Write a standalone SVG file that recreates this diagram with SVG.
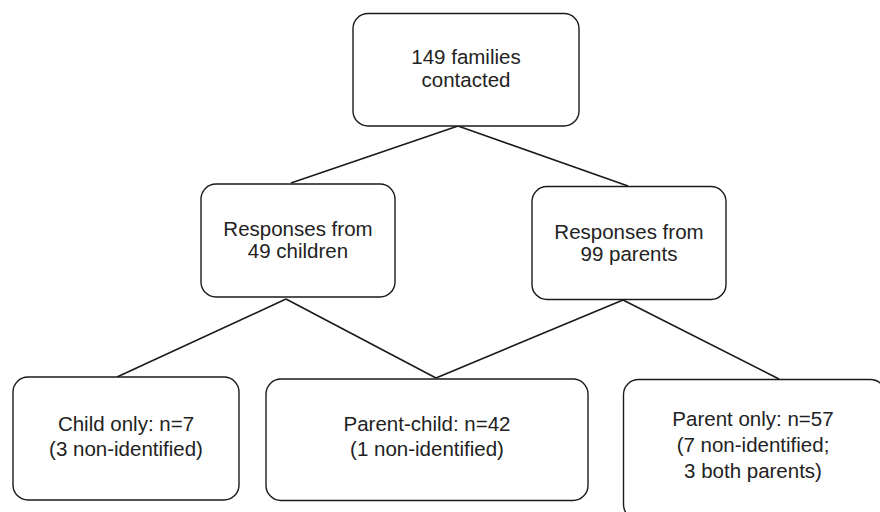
<svg xmlns="http://www.w3.org/2000/svg" width="880" height="512" viewBox="0 0 880 512">
<style>
.box{fill:#fff;stroke:#1a1a1a;stroke-width:1.4}
.ln{stroke:#1a1a1a;stroke-width:1.6;fill:none}
text{font-family:"Liberation Sans",Arial,sans-serif;font-size:20.5px;fill:#222;text-anchor:middle}
</style>
<rect width="880" height="512" fill="#fff"/>
<g id="connectors">
<line class="ln" x1="458" y1="126" x2="291" y2="183"/>
<line class="ln" x1="458" y1="126" x2="628" y2="186"/>
<line class="ln" x1="286" y1="299" x2="117" y2="377"/>
<line class="ln" x1="286" y1="299" x2="436" y2="378"/>
<line class="ln" x1="623" y1="300" x2="436" y2="378"/>
<line class="ln" x1="623" y1="300" x2="779" y2="379"/>
</g>
<g id="n1">
<rect class="box" x="353" y="13.5" width="226" height="112.5" rx="15"/>
<text x="466" y="64">149 families</text>
<text x="466" y="87">contacted</text>
</g>
<g id="n2">
<rect class="box" x="201" y="184" width="194" height="113" rx="15"/>
<text x="298" y="236">Responses from</text>
<text x="298" y="258">49 children</text>
</g>
<g id="n3">
<rect class="box" x="532" y="186.5" width="194" height="113" rx="15"/>
<text x="629" y="239">Responses from</text>
<text x="629" y="261">99 parents</text>
</g>
<g id="n4">
<rect class="box" x="13" y="377" width="226" height="123" rx="15"/>
<text x="126" y="431">Child only: n=7</text>
<text x="126" y="456">(3 non-identified)</text>
</g>
<g id="n5">
<rect class="box" x="266" y="379" width="322" height="121.5" rx="15"/>
<text x="427" y="431">Parent-child: n=42</text>
<text x="427" y="456">(1 non-identified)</text>
</g>
<g id="n6">
<rect class="box" x="623.5" y="379.5" width="262" height="140" rx="15"/>
<text x="753" y="426">Parent only: n=57</text>
<text x="753" y="452">(7 non-identified;</text>
<text x="753" y="478">3 both parents)</text>
</g>
</svg>
